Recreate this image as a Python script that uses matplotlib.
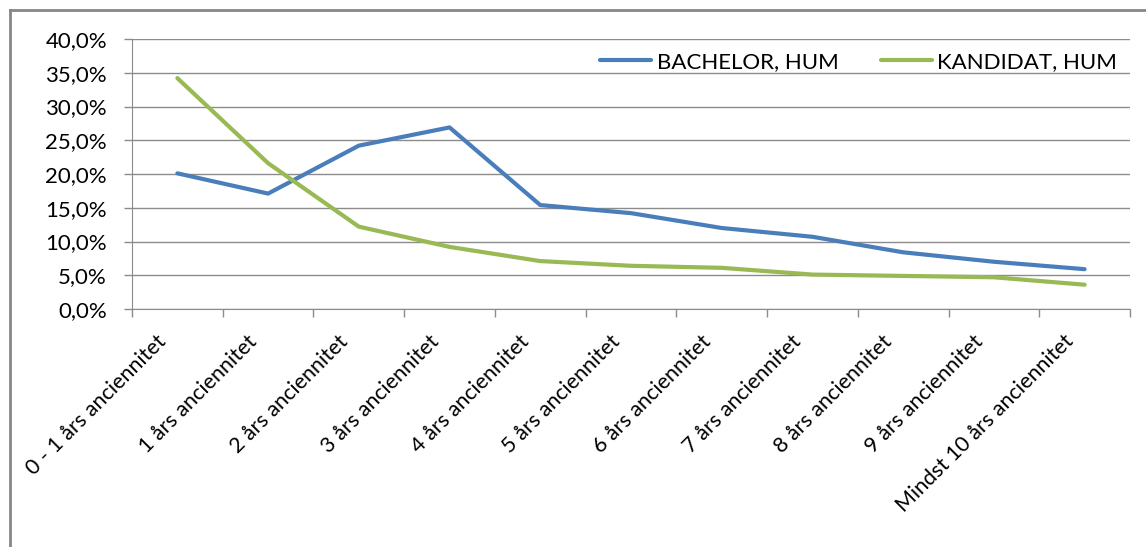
import matplotlib.pyplot as plt
from matplotlib.lines import Line2D
from matplotlib.ticker import FuncFormatter, FixedLocator
from matplotlib.transforms import ScaledTranslation

categories = ['0 - 1 års anciennitet', '1 års anciennitet', '2 års anciennitet',
              '3 års anciennitet', '4 års anciennitet', '5 års anciennitet',
              '6 års anciennitet', '7 års anciennitet', '8 års anciennitet',
              '9 års anciennitet', 'Mindst 10 års anciennitet']
bachelor = [20.1, 17.1, 24.2, 26.9, 15.4, 14.2, 12.0, 10.7, 8.4, 7.0, 5.9]
kandidat = [34.2, 21.6, 12.2, 9.2, 7.1, 6.4, 6.1, 5.1, 4.9, 4.7, 3.6]
series_names = ['BACHELOR, HUM', 'KANDIDAT, HUM']

plt.rcParams['font.family'] = ['Lato', 'DejaVu Sans']

fig = plt.figure(figsize=(11.46, 5.47), dpi=100)
ax = fig.add_axes([0.1152, 0.4351, 0.8708, 0.4936])

x = range(len(categories))
ax.plot(x, bachelor, color='#4A7EBB', lw=3, label=series_names[0], solid_capstyle='round')
ax.plot(x, kandidat, color='#98B954', lw=3, label=series_names[1], solid_capstyle='round')

ax.set_xlim(-0.5, len(categories) - 0.5)
ax.set_ylim(0, 40)
ax.set_yticks(range(0, 41, 5))
ax.yaxis.set_major_formatter(FuncFormatter(lambda v, p: f'{v:.1f}%'.replace('.', ',')))
ax.grid(axis='y', color='#8c8c8c', lw=1)
ax.set_axisbelow(True)

# category labels centred, tick marks on boundaries
ax.set_xticks(list(x))
ax.set_xticklabels(categories, rotation=45, ha='right', va='center',
                   rotation_mode='anchor', fontsize=15.5)
ax.tick_params(axis='x', which='major', length=0, pad=21)
shift = ScaledTranslation(-14 / 100, 0, fig.dpi_scale_trans)
for lbl in ax.get_xticklabels():
    lbl.set_transform(lbl.get_transform() + shift)
ax.xaxis.set_minor_locator(FixedLocator([i - 0.5 for i in range(len(categories) + 1)]))
ax.tick_params(axis='x', which='minor', length=6, color='#8c8c8c', width=1)
ax.tick_params(axis='y', length=6, color='#8c8c8c', width=1, labelsize=16, pad=12)

for s in ['top', 'right']:
    ax.spines[s].set_visible(False)
for s in ['left', 'bottom']:
    ax.spines[s].set_color('#8c8c8c')

ax.legend(loc='center right', bbox_to_anchor=(0.996, 0.915), borderaxespad=0, ncol=2,
          frameon=False, fontsize=16, handlelength=2.3, handletextpad=0.25,
          columnspacing=1.9)

# outer chart border
fig.add_artist(Line2D([10 / 1146, 10 / 1146], [0, 1 - 10 / 547], transform=fig.transFigure,
                      color='#868686', lw=2))
fig.add_artist(Line2D([10 / 1146, 1], [1 - 10 / 547, 1 - 10 / 547], transform=fig.transFigure,
                      color='#868686', lw=2))

fig.savefig('out.png', dpi=100)
